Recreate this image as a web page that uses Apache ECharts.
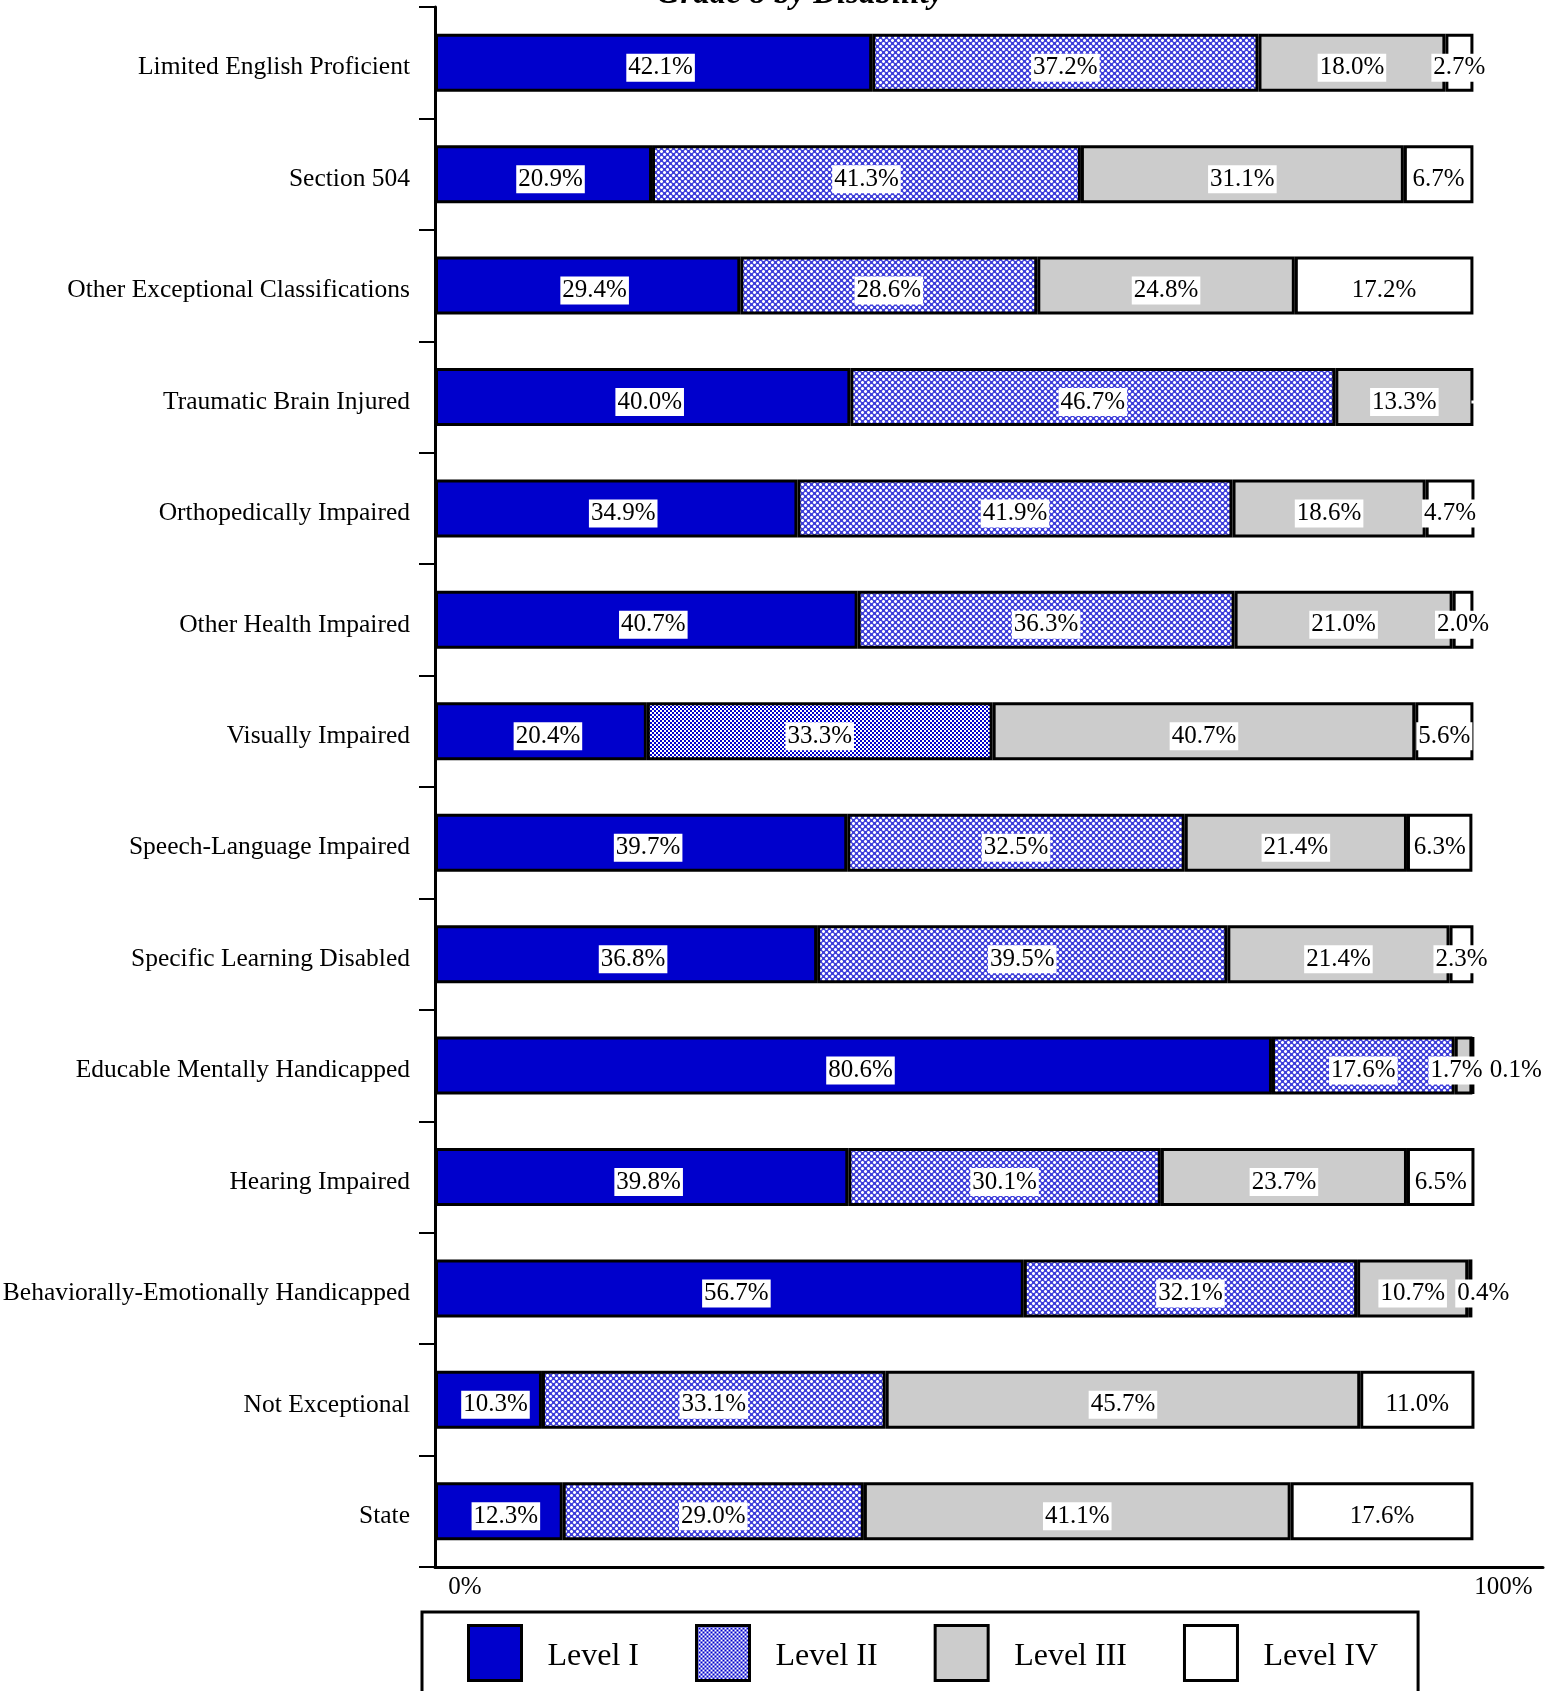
<!DOCTYPE html>
<html>
<head>
<meta charset="utf-8">
<script src="https://cdn.jsdelivr.net/npm/echarts@6/dist/echarts.min.js"></script>
<style>
  html, body { margin: 0; padding: 0; background: #fff; }
  #chart { width: 1556px; height: 1691px; }
</style>
</head>
<body>
<div id="chart"></div>
<script>
// ---- Data ----
const titleText = 'Grade 8 by Disability';
const categories = [
  'Limited English Proficient',
  'Section 504',
  'Other Exceptional Classifications',
  'Traumatic Brain Injured',
  'Orthopedically Impaired',
  'Other Health Impaired',
  'Visually Impaired',
  'Speech-Language Impaired',
  'Specific Learning Disabled',
  'Educable Mentally Handicapped',
  'Hearing Impaired',
  'Behaviorally-Emotionally Handicapped',
  'Not Exceptional',
  'State'
];
const seriesNames = ['Level I', 'Level II', 'Level III', 'Level IV'];
const level1 = [42.1, 20.9, 29.4, 40.0, 34.9, 40.7, 20.4, 39.7, 36.8, 80.6, 39.8, 56.7, 10.3, 12.3];
const level2 = [37.2, 41.3, 28.6, 46.7, 41.9, 36.3, 33.3, 32.5, 39.5, 17.6, 30.1, 32.1, 33.1, 29.0];
const level3 = [18.0, 31.1, 24.8, 13.3, 18.6, 21.0, 40.7, 21.4, 21.4, 1.7, 23.7, 10.7, 45.7, 41.1];
const level4 = [2.7, 6.7, 17.2, 0, 4.7, 2.0, 5.6, 6.3, 2.3, 0.1, 6.5, 0.4, 11.0, 17.6];
const xTickLabels = { 0: '0%', 100: '100%' };

// ---- Patterns ----
function makeTile(size, bg, pixels) {
  const c = document.createElement('canvas');
  c.width = size; c.height = size;
  const ctx = c.getContext('2d');
  ctx.fillStyle = bg; ctx.fillRect(0, 0, size, size);
  pixels.forEach(p => { ctx.fillStyle = p[2]; ctx.fillRect(p[0], p[1], 1, 1); });
  return c;
}
const W = '#ffffff', L = '#a4a4f0';
const fineTile = makeTile(6, '#4040da', [
  [1,0,W],[0,1,W],[1,1,W],[2,1,W],[1,2,W],
  [4,3,W],[3,4,W],[4,4,W],[5,4,W],[4,5,W],
  [0,0,L],[2,0,L],[0,2,L],[2,2,L],
  [3,3,L],[5,3,L],[3,5,L],[5,5,L]
]);
const B = '#0000cc';
const checkTile = makeTile(4, '#ffffff', [
  [0,0,B],[1,0,B],[0,1,B],[1,1,B],
  [2,2,B],[3,2,B],[2,3,B],[3,3,B]
]);
const finePattern = { image: fineTile, repeat: 'repeat' };
const checkPattern = { image: checkTile, repeat: 'repeat' };

const FONT = '"Liberation Serif", "Times New Roman", serif';
const colors = ['#0000cc', finePattern, '#cccccc', '#ffffff'];
const values = [level1, level2, level3, level4];

// label offsets: base per series, plus extra for crowded tiny segments
const baseOffsets = [[7, 5], [0, 5], [0, 5], [0, 5]];
const extraOffsets = { '2-9': [-7, 0], '3-9': [43, 0], '3-11': [13, 0] };

const series = values.map((arr, s) => ({
  name: seriesNames[s],
  type: 'bar',
  stack: 'total',
  barWidth: 58,
  itemStyle: { color: colors[s], borderColor: '#000', borderWidth: 3 },
  label: {
    show: true,
    position: 'inside',
    color: '#000',
    fontFamily: FONT,
    fontSize: 25,
    backgroundColor: '#fff',
    padding: [2, 2, 1, 2],
    offset: baseOffsets[s],
    formatter: p => (p.value > 0 ? p.value.toFixed(1) + '%' : '')
  },
  data: arr.map((v, i) => {
    const item = { value: v };
    const ex = extraOffsets[s + '-' + i];
    if (ex) item.label = { offset: [baseOffsets[s][0] + ex[0], baseOffsets[s][1] + ex[1]] };
    if (s === 1 && categories[i] === 'Visually Impaired') item.itemStyle = { color: checkPattern };
    if (v === 0) item.itemStyle = { borderWidth: 0 };
    return item;
  })
}));

const chart = echarts.init(document.getElementById('chart'), null, { renderer: 'canvas' });
chart.setOption({
  animation: false,
  backgroundColor: '#fff',
  textStyle: { fontFamily: FONT },
  grid: { left: 435, right: 13, top: 7, bottom: 124, containLabel: false, outerBoundsMode: 'none' },
  xAxis: {
    type: 'value',
    min: 0,
    max: 106.7,
    interval: 100,
    splitLine: { show: false },
    axisTick: { show: false },
    axisLine: { show: true, lineStyle: { color: '#000', width: 3 } },
    axisLabel: {
      color: '#000',
      fontFamily: FONT,
      fontSize: 25,
      margin: 8,
      padding: [0, 0, 0, 60],
      formatter: v => (xTickLabels[v] !== undefined ? xTickLabels[v] : '')
    }
  },
  yAxis: {
    type: 'category',
    inverse: true,
    data: categories,
    axisLine: { show: true, lineStyle: { color: '#000', width: 3 } },
    axisTick: { show: true, length: 16, lineStyle: { color: '#000', width: 2 } },
    axisLabel: {
      color: '#000', fontFamily: FONT, fontSize: 25.5, margin: 25,
      formatter: v => '{c|' + v + '}',
      rich: { c: { color: '#000', fontFamily: FONT, fontSize: 25.5, padding: [10, 0, 0, 0] } }
    }
  },
  legend: {
    left: 422,
    top: 1612,
    orient: 'horizontal',
    selectedMode: false,
    itemWidth: 53,
    itemHeight: 55,
    itemGap: 56,
    borderColor: '#000',
    borderWidth: 3,
    padding: [12, 40, 40, 45],
    itemStyle: { borderColor: '#000', borderWidth: 3 },
    formatter: '{t|{name}}',
    textStyle: {
      fontFamily: FONT, fontSize: 32, color: '#000',
      rich: { t: { fontFamily: FONT, fontSize: 32, color: '#000', padding: [7, 0, 0, 21] } }
    },
    data: [
      { name: seriesNames[0], icon: 'rect' },
      { name: seriesNames[1], icon: 'rect', itemStyle: { color: checkPattern } },
      { name: seriesNames[2], icon: 'rect' },
      { name: seriesNames[3], icon: 'rect' }
    ]
  },
  graphic: [{
    type: 'text',
    x: 800,
    y: -6,
    style: {
      text: titleText,
      font: 'italic bold 33px ' + FONT,
      fill: '#000',
      align: 'center',
      verticalAlign: 'middle'
    }
  }],
  series: series
});
</script>
</body>
</html>
